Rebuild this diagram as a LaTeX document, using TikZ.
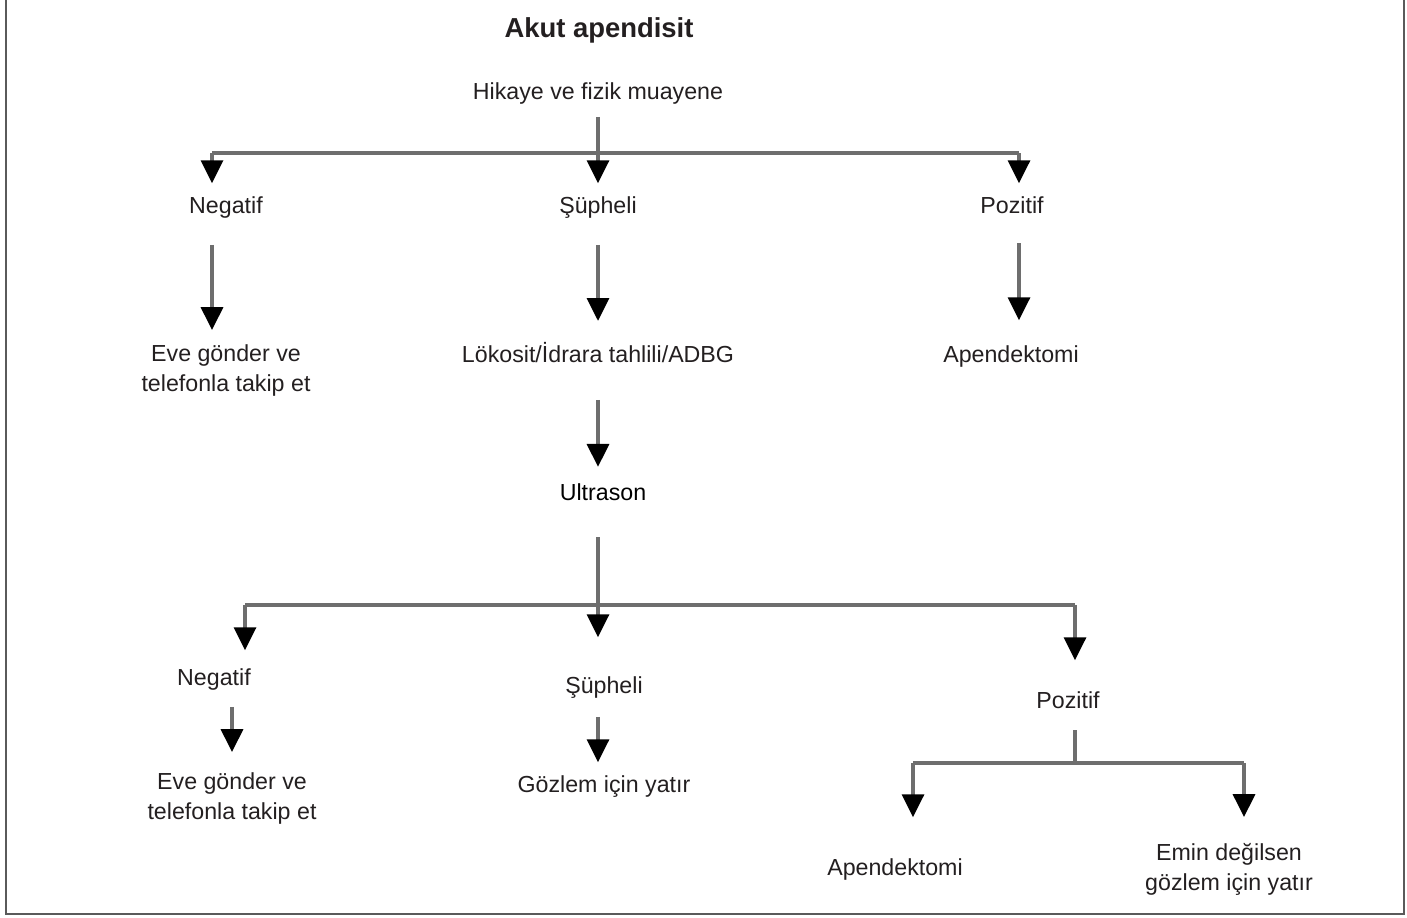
\documentclass[tikz,border=0pt]{standalone}
\usepackage{fontspec}
\setmainfont{Liberation Sans}
\usepackage{xcolor}
\usepackage{tikz}
\usetikzlibrary{arrows.meta, positioning, calc}
\definecolor{inkdark}{RGB}{35, 31, 32}
\definecolor{linegray}{RGB}{110, 110, 110}
\definecolor{framegray}{RGB}{90, 90, 90}

\begin{document}
\begin{tikzpicture}[x=0.025cm, y=-0.025cm,
    txt/.style={inner sep=0pt, outer sep=0pt, text=inkdark, font=\fontsize{16.5}{21.3}\selectfont},
    line/.style={draw=linegray, line width=0.078cm},
    arr/.style={line, -{Triangle[width=0.55cm, length=0.57cm, color=black]}}]
    \useasboundingbox (0,0) rectangle (1407,917);

    % Frame (no top edge)
    \draw[framegray, line width=0.055cm] (6,0) -- (6,914) -- (1404,914) -- (1404,0);

    % Title and start
    \node[txt, anchor=base, font=\fontsize{19.5}{24}\selectfont\bfseries] (title) at (599,37) {Akut apendisit};
    \node[txt, anchor=base] (hik) at (598,99) {Hikaye ve fizik muayene};

    % First level
    \node[txt, anchor=base] (neg1) at (226,213) {Negatif};
    \node[txt, anchor=base] (sup1) at (598,213) {Şüpheli};
    \node[txt, anchor=base] (poz1) at (1012,213) {Pozitif};
    \coordinate (b1l) at (212,153);
    \coordinate (b1r) at (1019,153);

    \draw[line] (b1l) -- (b1r);
    \draw[arr, shorten <=0.325cm, shorten >=0.325cm] (hik.south) -- (sup1.north);
    \draw[arr, shorten >=0.325cm] (b1l) -- (neg1.north -| b1l);
    \draw[arr, shorten >=0.325cm] (b1r) -- (poz1.north -| b1r);

    % Second level
    \node[txt, anchor=north, align=center] (eve1) at (226,345) {Eve gönder ve\\telefonla takip et};
    \node[txt, anchor=base] (lok) at (598,362) {Lökosit/İdrara tahlili/ADBG};
    \node[txt, anchor=base] (ap1) at (1011,362) {Apendektomi};

    \draw[arr, shorten <=0.675cm, shorten >=0.375cm] (neg1.south -| b1l) -- (eve1.north -| b1l);
    \draw[arr, shorten <=0.675cm, shorten >=0.525cm] (sup1.south) -- (lok.north);
    \draw[arr, shorten <=0.75cm, shorten >=0.625cm] (poz1.south -| b1r) -- (ap1.north -| b1r);

    % Ultrason
    \node[txt, anchor=base, text=black] (ult) at (603,500) {Ultrason};
    \draw[arr, shorten <=0.94cm, shorten >=0.41cm] (lok.south) -- (ult.north -| lok);

    % Third level
    \node[txt, anchor=base] (neg2) at (214,685) {Negatif};
    \node[txt, anchor=base] (sup2) at (604,693) {Şüpheli};
    \node[txt, anchor=base] (poz2) at (1068,708) {Pozitif};
    \coordinate (b2l) at (245,605);
    \coordinate (b2r) at (1075,605);

    \draw[line] (b2l) -- (b2r);
    \draw[arr, shorten <=0.925cm, shorten >=0.975cm] (ult.south -| hik) -- (sup2.north -| hik);
    \draw[arr, shorten >=0.45cm] (b2l) -- (neg2.north -| b2l);
    \draw[arr, shorten >=0.775cm] (b2r) -- (poz2.north -| b2r);

    % Fourth level
    \node[txt, anchor=north, align=center] (eve2) at (232,773) {Eve gönder ve\\telefonla takip et};
    \node[txt, anchor=base] (goz) at (604,792) {Gözlem için yatır};

    \draw[arr, shorten <=0.425cm, shorten >=0.525cm] (neg2.south -| eve2.north) -- (eve2.north);
    \draw[arr, shorten <=0.475cm, shorten >=0.325cm] (sup2.south -| hik) -- (goz.north -| hik);

    % Positive split
    \coordinate (b3c) at (1075,763);
    \coordinate (b3l) at (913,763);
    \coordinate (b3r) at (1244,763);
    \node[txt, anchor=base] (ap2) at (895,875) {Apendektomi};
    \node[txt, anchor=north, align=center] (emin) at (1229,843) {Emin değilsen\\gözlem için yatır};

    \draw[line, shorten <=0.55cm] (poz2.south -| b3c) -- (b3c);
    \draw[line] (b3l) -- (b3r);
    \draw[arr, shorten >=1.025cm] (b3l) -- (ap2.north -| b3l);
    \draw[arr, shorten >=0.65cm] (b3r) -- (emin.north -| b3r);
\end{tikzpicture}
\end{document}
